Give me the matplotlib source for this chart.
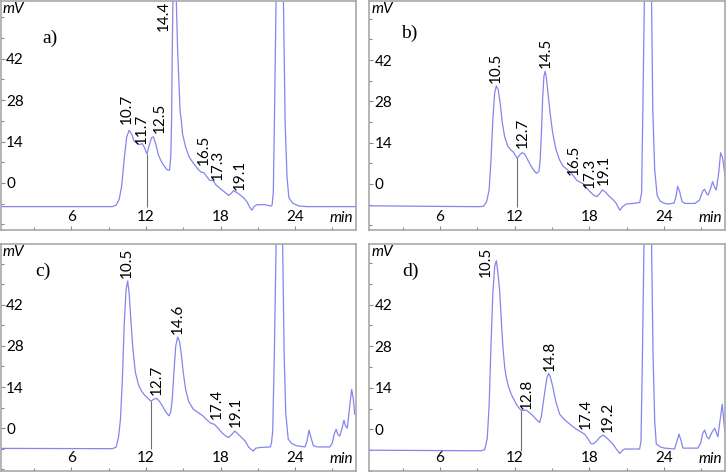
import matplotlib
matplotlib.use("Agg")
import matplotlib.pyplot as plt

plt.rcParams['font.family'] = ['Lato', 'DejaVu Sans']

# ---------------- data (time in min, signal in mV) ----------------
t_a = [0.3, 9.3, 9.6, 9.85, 10.05, 10.25, 10.45, 10.65, 10.85, 11.05, 11.3, 11.5, 11.7, 11.9, 12.08,
       12.25, 12.45, 12.6, 12.8, 13.0, 13.2, 13.45, 13.7, 13.9, 14.0, 14.06, 14.12, 14.17, 14.3, 14.44,
       14.55, 14.75, 14.85, 14.95, 15.2, 15.5, 15.85, 16.2, 16.45, 16.65, 16.9, 17.15, 17.4, 17.6,
       17.95, 18.3, 18.65, 18.85, 19.05, 19.3, 19.6, 19.9, 20.15, 20.35, 20.52, 20.7, 20.9, 21.5,
       22.05, 22.15, 22.25, 22.35, 22.47, 22.75, 23.06, 23.2, 23.35, 23.5, 23.8, 24.3, 25.0, 28.9]
mv_a = [-8.0, -8.0, -7.5, -5.5, -1.0, 8.0, 15.5, 17.8, 16.5, 14.2, 13.3, 13.0, 13.3, 11.8, 9.8,
        12.5, 15.3, 15.6, 13.0, 9.5, 7.6, 5.8, 4.5, 4.3, 9.0, 20.0, 45.0, 62.0, 85.0, 62.0,
        45.0, 24.0, 21.0, 16.5, 12.0, 8.6, 6.5, 4.6, 3.6, 3.5, 2.1, 0.8, 0.9, -0.5,
        -1.8, -3.0, -4.2, -3.6, -2.6, -3.2, -4.1, -5.2, -6.5, -8.2, -9.2, -8.0, -7.4, -7.3,
        -7.8, -7.5, -3.0, 25.0, 62.0, 250.0, 62.0, 20.0, 2.0, -5.0, -6.8, -7.8, -8.0, -8.0]

t_b = [0.3, 9.0, 9.5, 9.75, 9.95, 10.1, 10.25, 10.4, 10.53, 10.68, 10.85, 11.0, 11.2, 11.45, 11.7,
       11.9, 12.2, 12.4, 12.6, 12.8, 13.0, 13.25, 13.5, 13.75, 13.95, 14.05, 14.15, 14.25, 14.35,
       14.45, 14.55, 14.7, 14.85, 15.05, 15.3, 15.6, 15.9, 16.2, 16.5, 16.75, 17.0, 17.25, 17.5,
       17.75, 18.05, 18.35, 18.6, 18.85, 19.05, 19.3, 19.6, 19.9, 20.15, 20.45, 20.65, 20.95, 21.5,
       22.05, 22.2, 22.3, 22.42, 22.7, 23.0, 23.1, 23.25, 23.45, 23.7, 24.0, 24.3, 24.8, 24.95,
       25.1, 25.25, 25.45, 25.7, 26.5, 26.85, 27.1, 27.25, 27.45, 27.55, 27.75, 27.9, 28.1, 28.2,
       28.4, 28.55, 28.7, 28.9]
mv_b = [-7.4, -7.7, -7.6, -6.0, -2.0, 8.0, 22.0, 31.0, 33.2, 32.0, 27.0, 21.0, 16.0, 12.8, 11.5,
        10.8, 8.7, 9.8, 10.6, 10.2, 8.6, 6.6, 4.8, 3.6, 4.2, 8.0, 17.0, 29.0, 36.5,
        38.2, 36.0, 30.0, 24.0, 17.5, 12.0, 8.2, 6.0, 5.0, 3.8, 2.6, 1.2, 0.6, 0.1,
        -1.2, -2.6, -3.8, -4.3, -3.2, -2.0, -2.8, -4.2, -5.3, -6.5, -8.9, -7.8, -6.8, -6.6,
        -6.3, -3.0, 25.0, 62.0, 250.0, 62.0, 25.0, 5.0, -4.0, -5.8, -6.5, -6.8, -6.5, -4.5,
        -0.8, -2.5, -6.0, -6.6, -6.6, -5.5, -2.5, -1.8, -3.5, -3.7, -1.5, 0.8, -1.5, -2.0,
        4.0, 10.6, 9.0, 3.0]

t_c = [0.3, 9.3, 9.6, 9.8, 9.95, 10.1, 10.25, 10.4, 10.53, 10.65, 10.8, 10.95, 11.15, 11.4, 11.65,
       11.9, 12.15, 12.4, 12.65, 12.88, 13.1, 13.35, 13.6, 13.85, 14.0, 14.12, 14.25, 14.4, 14.55,
       14.7, 14.85, 15.0, 15.2, 15.45, 15.8, 16.2, 16.6, 16.9, 17.2, 17.5, 17.8, 18.1, 18.4, 18.65,
       18.9, 19.15, 19.4, 19.7, 20.0, 20.25, 20.45, 20.65, 20.85, 21.2, 22.0, 22.1, 22.2, 22.33,
       22.47, 22.75, 23.0, 23.12, 23.25, 23.45, 23.75, 24.13, 24.8, 24.95, 25.12, 25.3, 25.47,
       25.8, 26.8, 27.0, 27.15, 27.3, 27.45, 27.6, 27.78, 27.93, 28.05, 28.2, 28.38, 28.55, 28.68,
       28.8]
mv_c = [-6.9, -7.0, -6.5, -3.0, 3.0, 16.0, 35.0, 47.0, 50.1, 46.0, 36.0, 27.0, 19.0, 14.8, 12.6,
        11.2, 10.2, 9.2, 9.9, 10.1, 9.0, 7.4, 5.5, 4.2, 5.5, 10.0, 19.0, 28.0, 31.0,
        29.5, 25.0, 19.0, 13.0, 9.0, 6.5, 5.3, 4.1, 2.8, 1.7, 1.3, 0.0, -1.5, -2.6, -3.2,
        -2.2, -1.0, -2.0, -3.2, -4.5, -6.4, -7.2, -7.8, -6.8, -6.6, -6.4, -5.0, -1.0, 25.0,
        62.0, 250.0, 62.0, 25.0, 5.0, -3.8, -5.3, -6.0, -6.4, -4.5, -0.7, -3.5, -6.0,
        -6.4, -6.4, -5.0, -2.0, -0.4, -2.2, -2.7, 0.0, 2.7, 0.8, 0.0, 7.0, 13.2, 10.0,
        4.7]

t_d = [0.3, 9.3, 9.6, 9.8, 9.95, 10.1, 10.25, 10.4, 10.53, 10.65, 10.8, 10.95, 11.06, 11.2, 11.33,
       11.5, 11.73, 11.95, 12.13, 12.3, 12.48, 12.7, 12.94, 13.2, 13.47, 13.75, 14.01, 14.15, 14.3,
       14.45, 14.6, 14.73, 14.88, 15.08, 15.3, 15.62, 15.95, 16.28, 16.6, 16.95, 17.3, 17.62, 17.9,
       18.16, 18.35, 18.56, 18.85, 19.1, 19.35, 19.63, 19.9, 20.17, 20.44, 20.65, 20.84, 21.5,
       22.04, 22.15, 22.25, 22.39, 22.7, 23.0, 23.12, 23.25, 23.38, 23.7, 24.05, 24.85, 25.0, 25.2,
       25.35, 25.52, 25.9, 26.73, 26.95, 27.1, 27.26, 27.45, 27.6, 27.85, 28.07, 28.2, 28.33, 28.5,
       28.68, 28.9]
mv_d = [-7.0, -7.2, -6.8, -3.0, 8.0, 28.0, 46.0, 55.0, 56.8, 53.0, 46.5, 35.0, 27.5, 21.0, 17.4,
        14.5, 11.8, 10.0, 8.5, 7.5, 6.6, 6.4, 6.5, 5.6, 4.6, 3.3, 2.3, 4.5, 9.0,
        13.5, 17.5, 18.8, 17.5, 14.1, 9.5, 5.1, 3.5, 2.3, 1.2, 0.1, -0.8, -1.6, -3.2,
        -4.9, -4.8, -4.0, -2.6, -1.9, -2.7, -3.8, -5.0, -6.6, -8.1, -7.1, -6.6, -6.6,
        -6.6, -4.0, 20.0, 62.0, 250.0, 62.0, 25.0, 3.0, -4.9, -5.9, -6.3, -6.6, -4.5, -1.6,
        -3.5, -6.3, -6.3, -6.3, -4.5, -1.5, -0.2, -2.5, -3.2, -1.0, 0.4, -1.0, -2.5, 3.0,
        8.5, -1.3]

# peak labels: text, x (min), bottom of text (mV)
lab_a = ['10.7', '11.7', '12.5', '14.4', '16.5', '17.3', '19.1']
lx_a = [10.48, 11.68, 13.1, 13.42, 16.63, 17.75, 19.52]
ly_a = [19.9, 13.2, 17.0, 51.5, 6.1, 1.0, -2.4]
lab_b = ['10.5', '12.7', '14.5', '16.5', '17.3', '19.1']
lx_b = [10.48, 12.67, 14.49, 16.74, 18.03, 19.15]
ly_b = [34.3, 12.1, 39.2, 3.1, -1.5, -0.3]
lab_c = ['10.5', '12.7', '14.6', '17.4', '19.1']
lx_c = [10.48, 12.88, 14.57, 17.7, 19.26]
ly_c = [51.2, 11.3, 31.9, 3.0, 0.4]
lab_d = ['10.5', '12.8', '14.8', '17.4', '19.2']
lx_d = [9.67, 12.94, 14.81, 17.7, 19.5]
ly_d = [51.2, 6.8, 19.7, 0.1, -1.0]

# integration cut lines: time, baseline, curve value
cut_t = [12.08, 12.2, 12.4, 12.48]
cut_base = [-8.0, -7.7, -7.0, -7.2]
cut_top = [9.8, 8.7, 9.2, 6.6]

panel_names = ['a)', 'b)', 'c)', 'd)']
y_ticks = [0, 14, 28, 42]
y_minor = [-14, -7, 7, 21, 35, 49, 56]
x_ticks = [6, 12, 18, 24]
x_minor = [3, 9, 15, 21, 27]

# ---------------- layout ----------------
W, H = 726, 476
fig = plt.figure(figsize=(W / 100, H / 100), dpi=100)

boxes = [(0.5, 1, 356, 230), (369, 1, 725, 230), (0.5, 244, 356, 471), (369, 244, 725, 471)]
ylims = [(-15.9, 61.5), (-15.6, 62.0), (-14.6, 62.7), (-13.8, 62.4)]
name_pos = [(0.118, 0.817), (0.09, 0.838), (0.098, 0.859), (0.093, 0.859)]

series = [(t_a, mv_a, lab_a, lx_a, ly_a), (t_b, mv_b, lab_b, lx_b, ly_b),
          (t_c, mv_c, lab_c, lx_c, ly_c), (t_d, mv_d, lab_d, lx_d, ly_d)]

line_col = '#8585ee'
frame_col = '#a8a8a8'

for i, (box, (t, mv, labs, lx, ly)) in enumerate(zip(boxes, series)):
    x0, y0, x1, y1 = box
    ax = fig.add_axes([x0 / W, 1 - y1 / H, (x1 - x0) / W, (y1 - y0) / H])
    ax.plot(t, mv, color=line_col, lw=0.9)
    ax.vlines(cut_t[i], cut_base[i], cut_top[i], color='#707070', lw=0.8)
    ax.set_xlim(0.3, 28.9)
    ax.set_ylim(*ylims[i])
    for s in ax.spines.values():
        s.set_color(frame_col)
        s.set_linewidth(1.2)
    ax.set_xticks(x_ticks)
    ax.set_xticks(x_minor, minor=True)
    ax.set_yticks(y_ticks)
    ax.set_yticks(y_minor, minor=True)
    ax.set_xticklabels([str(v) for v in x_ticks])
    ax.set_yticklabels([str(v) for v in y_ticks])
    ax.tick_params(axis='both', which='both', direction='in', color='#888888', width=0.8)
    ax.tick_params(axis='both', which='major', length=3)
    ax.tick_params(axis='both', which='minor', length=2)
    ax.tick_params(axis='y', which='major', pad=-4, labelsize=11)
    ax.tick_params(axis='x', which='major', pad=-4.5, labelsize=11)
    for lbl in ax.get_yticklabels():
        lbl.set_horizontalalignment('left')
    for lbl in ax.get_xticklabels():
        lbl.set_verticalalignment('bottom')
    ax.text(0.006, 0.965, 'mV', transform=ax.transAxes, style='italic', fontsize=11,
            ha='left', va='center')
    ax.text(0.992, 0.052, 'min', transform=ax.transAxes, style='italic', fontsize=11,
            ha='right', va='center')
    ax.text(name_pos[i][0], name_pos[i][1], panel_names[i], transform=ax.transAxes,
            family='Liberation Serif', fontsize=14, ha='left', va='baseline')
    for s, x, y in zip(labs, lx, ly):
        ax.text(x, y, s, rotation=90, ha='center', va='bottom', fontsize=11, clip_on=False)

fig.savefig('out.png', dpi=100)
